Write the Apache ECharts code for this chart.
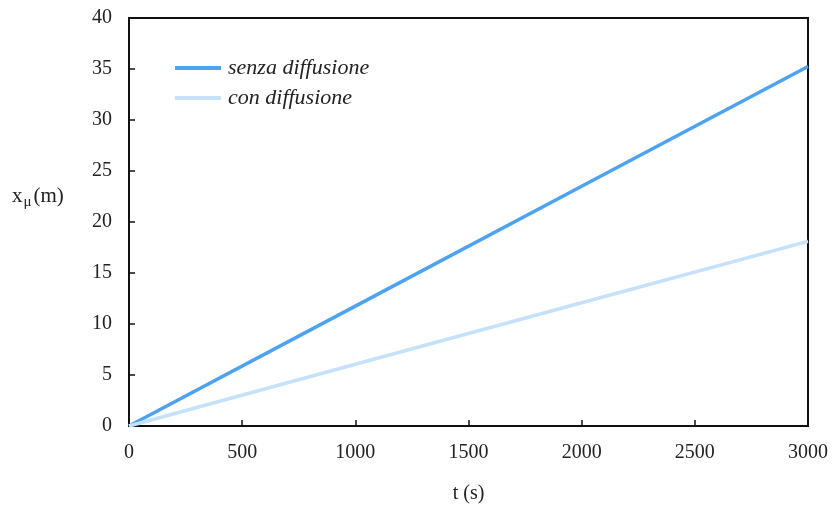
<!DOCTYPE html>
<html>
<head>
<meta charset="utf-8">
<script src="https://cdn.jsdelivr.net/npm/echarts@6/dist/echarts.min.js"></script>
<style>
  html, body { margin: 0; padding: 0; background: #fff; }
  #chart { width: 834px; height: 514px; }
</style>
</head>
<body>
<div id="chart"></div>
<script>
// Time samples (s) and muon penetration depth (m)
const timeSec = [0, 1000, 2000, 3000];
const senzaDiffusione = [0, 11.75, 23.5, 35.25];
const conDiffusione = [0, 6.05, 12.08, 18.1];
const seriesNames = ['senza diffusione', 'con diffusione'];

const serif = '"Liberation Serif", "DejaVu Serif", serif';
const textColor = '#222';

const chart = echarts.init(document.getElementById('chart'));
chart.setOption({
  animation: false,
  grid: {
    left: 129, right: 26, top: 18, bottom: 88,
    show: true, borderColor: '#111', borderWidth: 2
  },
  legend: {
    orient: 'vertical',
    left: 170, top: 52,
    itemWidth: 46, itemHeight: 4, itemGap: 8,
    icon: 'rect',
    textStyle: { fontFamily: serif, fontStyle: 'italic', fontSize: 22, color: textColor, padding: [0, 0, 0, 2] },
    data: seriesNames
  },
  xAxis: {
    type: 'value', min: 0, max: 3000, interval: 500,
    axisLine: { lineStyle: { color: '#111', width: 2 } },
    axisTick: { inside: true, length: 6, lineStyle: { color: '#111', width: 1.5 } },
    splitLine: { show: false },
    axisLabel: { fontFamily: serif, fontSize: 20, color: textColor, margin: 17, formatter: v => String(v) },
    name: 't (s)', nameLocation: 'middle', nameGap: 58,
    nameTextStyle: { fontFamily: serif, fontSize: 20, color: textColor }
  },
  yAxis: {
    type: 'value', min: 0, max: 40, interval: 5,
    axisLine: { lineStyle: { color: '#111', width: 2 } },
    axisTick: { inside: true, length: 6, lineStyle: { color: '#111', width: 1.5 } },
    splitLine: { show: false },
    axisLabel: { fontFamily: serif, fontSize: 20, color: textColor, margin: 17 }
  },
  graphic: [{
    type: 'text',
    left: 12, top: 186,
    style: {
      text: '{a|x}{b|μ}{a|(m)}',
      rich: {
        a: { fontFamily: serif, fontSize: 21, fill: textColor },
        b: { fontFamily: serif, fontSize: 15, fill: textColor, padding: [12, 2, 0, 1] }
      }
    }
  }],
  series: [
    {
      name: seriesNames[0], type: 'line', showSymbol: false,
      data: timeSec.map((t, i) => [t, senzaDiffusione[i]]),
      lineStyle: { color: '#4ea2f2', width: 3.5 },
      itemStyle: { color: '#4ea2f2' }
    },
    {
      name: seriesNames[1], type: 'line', showSymbol: false,
      data: timeSec.map((t, i) => [t, conDiffusione[i]]),
      lineStyle: { color: '#c5e1fb', width: 3.5 },
      itemStyle: { color: '#c5e1fb' }
    }
  ]
});
</script>
</body>
</html>
